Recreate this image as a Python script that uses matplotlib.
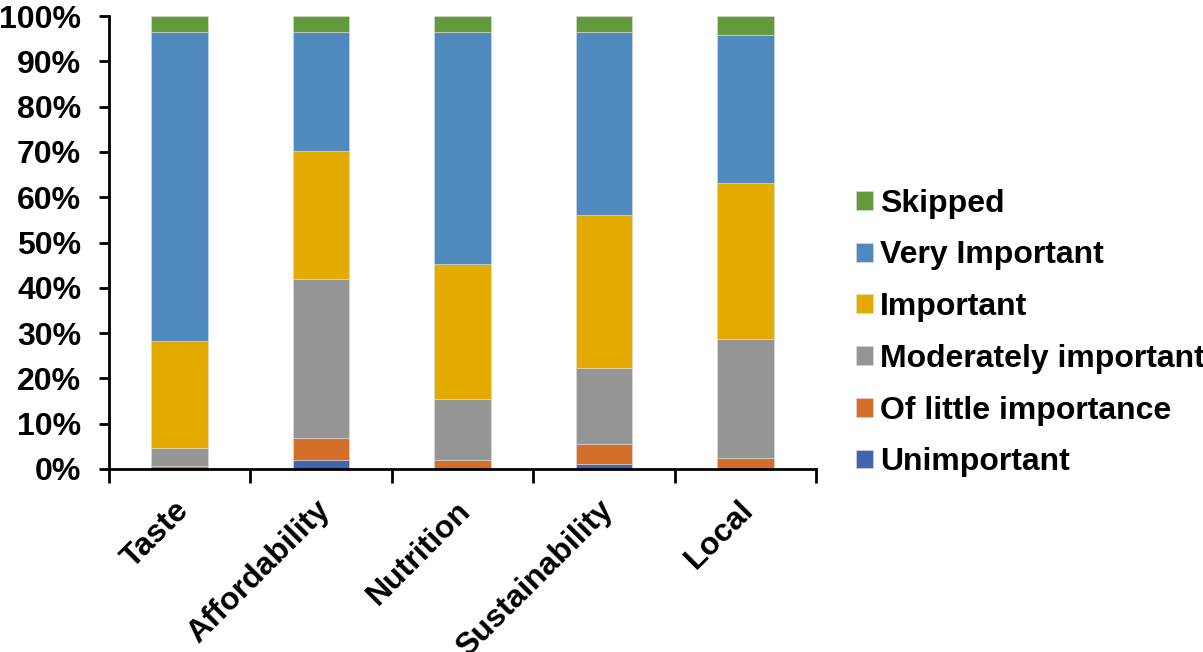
import matplotlib
matplotlib.use('Agg')
import matplotlib.pyplot as plt
import numpy as np

plt.rcParams['font.family'] = ['Liberation Sans', 'DejaVu Sans']
plt.rcParams['font.weight'] = 'bold'

# 카테고리와 응답 비율 (%)
categories = ['Taste', 'Affordability', 'Nutrition', 'Sustainability', 'Local']
unimportant = [0.0, 1.9, 0.0, 1.1, 0.0]
little = [0.6, 5.0, 1.9, 4.4, 2.5]
moderate = [4.1, 35.0, 13.5, 16.9, 26.3]
important = [23.5, 28.3, 29.8, 33.6, 34.3]
very_important = [68.2, 26.2, 51.2, 40.4, 32.7]
skipped = [3.6, 3.6, 3.6, 3.6, 4.2]

series = [
    ('Unimportant', unimportant, '#3F67B1'),
    ('Of little importance', little, '#D46F2A'),
    ('Moderately important', moderate, '#959595'),
    ('Important', important, '#E3AB00'),
    ('Very Important', very_important, '#4F89BD'),
    ('Skipped', skipped, '#629A3C'),
]

fs = 23

fig = plt.figure(figsize=(12.03, 6.52), dpi=100)
ax = fig.add_axes([109 / 1203, 1 - 469 / 652, (816 - 109) / 1203, (469 - 16) / 652])

x = np.arange(len(categories))
bottom = np.zeros(len(categories))
handles = []
for name, vals, color in series:
    vals = np.array(vals)
    b = ax.bar(x, vals, 0.4, bottom=bottom, color=color, label=name,
               edgecolor='#dddddd', linewidth=0.4)
    handles.append(b)
    bottom += vals

ax.set_xlim(-0.5, len(categories) - 0.5)
ax.set_ylim(0, 100)
ax.set_yticks(np.arange(0, 101, 10))
ax.set_yticklabels([f'{v}%' for v in range(0, 101, 10)], fontsize=fs, fontweight='bold')

# 엑셀처럼 눈금은 카테고리 경계에
ax.set_xticks(np.arange(-0.5, len(categories), 1.0))
ax.set_xticklabels([])
ax.tick_params(axis='x', length=10, width=2, direction='out')
ax.tick_params(axis='y', length=7, width=2, direction='out', pad=13)

for i, c in enumerate(categories):
    ax.text(i - 0.045, -5.8, c, rotation=45, ha='right', va='top',
            rotation_mode='anchor', fontsize=fs, fontweight='bold',
            transform=ax.transData)

for s in ['top', 'right']:
    ax.spines[s].set_visible(False)
ax.spines['left'].set_linewidth(2)
ax.spines['bottom'].set_linewidth(2)

fig.legend(handles[::-1], [h.get_label() for h in handles[::-1]],
           loc='center left', bbox_to_anchor=(843 / 1203, 1 - 333 / 652),
           frameon=False, prop={'weight': 'bold', 'size': fs},
           handlelength=0.53, handleheight=0.53, handletextpad=0.22,
           labelspacing=0.68, borderaxespad=0)

fig.savefig('out.png', dpi=100)
